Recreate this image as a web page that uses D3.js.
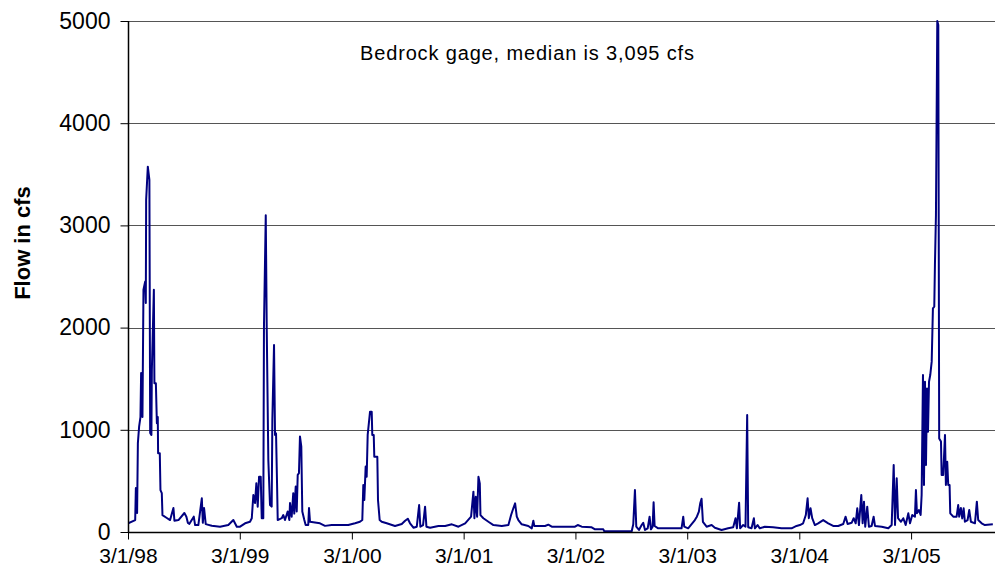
<!DOCTYPE html>
<html>
<head>
<meta charset="utf-8">
<script src="https://cdn.jsdelivr.net/npm/d3@7"></script>
<style>
  body { margin: 0; background: #fff; }
  svg { display: block; font-family: Arial, "Liberation Sans", sans-serif; }
  .grid line { stroke: #555; stroke-width: 1; }
  .axis path, .axis line { stroke: #000; }
  .axis text { fill: #000; }
</style>
</head>
<body>
<div id="chart"></div>
<script>
// daily flow at the Bedrock gage as [decimal year, cfs]
var flow1998 = [
  [1998.163, 85], [1998.226, 117], [1998.232, 430], [1998.243, 186], [1998.250, 870],
  [1998.261, 1030], [1998.273, 1125], [1998.279, 1555], [1998.291, 1125], [1998.300, 2370],
  [1998.315, 2450], [1998.321, 2240], [1998.324, 3250], [1998.339, 3575], [1998.353, 3445],
  [1998.360, 970], [1998.371, 950], [1998.375, 1585], [1998.393, 2370], [1998.398, 1455],
  [1998.411, 1455], [1998.420, 1065], [1998.428, 1125], [1998.431, 770], [1998.446, 770],
  [1998.452, 410], [1998.464, 380], [1998.470, 165], [1998.509, 137], [1998.538, 117],
  [1998.568, 235], [1998.577, 110], [1998.613, 117], [1998.666, 186], [1998.684, 150],
  [1998.697, 90], [1998.711, 80], [1998.750, 150], [1998.762, 68], [1998.791, 68],
  [1998.822, 330], [1998.831, 90], [1998.842, 235], [1998.857, 77], [1998.911, 62],
  [1998.985, 52], [1999.059, 68], [1999.104, 117], [1999.135, 52]
]

var flow1999 = [
  [1999.164, 52], [1999.209, 85], [1999.253, 100], [1999.269, 135], [1999.283, 362],
  [1999.298, 283], [1999.310, 478], [1999.322, 248], [1999.334, 540], [1999.349, 540],
  [1999.358, 135], [1999.372, 135], [1999.378, 2010], [1999.394, 3100], [1999.403, 1975],
  [1999.417, 705], [1999.432, 264], [1999.447, 248], [1999.453, 1095], [1999.468, 1830],
  [1999.477, 950], [1999.486, 965], [1999.495, 478], [1999.501, 117], [1999.537, 135],
  [1999.551, 166], [1999.566, 117], [1999.590, 200], [1999.605, 117], [1999.611, 283],
  [1999.626, 150], [1999.640, 380], [1999.649, 180], [1999.662, 445], [1999.671, 200],
  [1999.680, 560], [1999.691, 575], [1999.700, 935], [1999.712, 835], [1999.721, 200],
  [1999.739, 117], [1999.751, 68], [1999.774, 68], [1999.781, 235], [1999.790, 100],
  [1999.879, 85], [1999.924, 60], [1999.984, 68], [2000.132, 68]
]

var flow2000 = [
  [2000.192, 85], [2000.236, 100], [2000.257, 117], [2000.266, 460], [2000.275, 313],
  [2000.287, 640], [2000.296, 540], [2000.305, 950], [2000.326, 1177], [2000.341, 1177],
  [2000.346, 950], [2000.359, 950], [2000.364, 737], [2000.391, 737], [2000.397, 313],
  [2000.412, 117], [2000.430, 100], [2000.475, 85], [2000.549, 59], [2000.609, 78],
  [2000.639, 110], [2000.663, 130], [2000.683, 85], [2000.713, 42], [2000.743, 52],
  [2000.764, 264], [2000.775, 52], [2000.799, 68], [2000.817, 248], [2000.829, 52],
  [2000.862, 42], [2000.936, 59], [2000.996, 59], [2001.056, 75], [2001.115, 52]
]

var flow2001 = [
  [2001.175, 85], [2001.228, 150], [2001.249, 395], [2001.258, 135], [2001.270, 345],
  [2001.282, 150], [2001.294, 540], [2001.306, 476], [2001.312, 165], [2001.338, 135],
  [2001.383, 100], [2001.428, 68], [2001.503, 59], [2001.562, 68], [2001.586, 166],
  [2001.606, 232], [2001.622, 280], [2001.637, 150], [2001.651, 117], [2001.681, 75],
  [2001.740, 59], [2001.771, 36], [2001.785, 110], [2001.794, 59], [2001.890, 59],
  [2001.919, 72], [2001.950, 52]
]

var flow2002 = [
  [2002.158, 52], [2002.182, 68], [2002.218, 52], [2002.307, 46], [2002.337, 26],
  [2002.411, 26], [2002.420, 7], [2002.665, 7], [2002.679, 75], [2002.694, 411],
  [2002.706, 52], [2002.730, 20], [2002.754, 68], [2002.768, 90], [2002.784, 20],
  [2002.808, 36], [2002.825, 150], [2002.837, 26], [2002.852, 52], [2002.861, 290],
  [2002.870, 59], [2002.902, 36], [2003.111, 36], [2003.126, 150], [2003.135, 52]
]

var flow2003 = [
  [2003.170, 36], [2003.201, 78], [2003.230, 117], [2003.248, 150], [2003.266, 200],
  [2003.278, 280], [2003.290, 326], [2003.302, 100], [2003.335, 52], [2003.380, 68],
  [2003.409, 42], [2003.469, 20], [2003.528, 36], [2003.573, 46], [2003.594, 134],
  [2003.606, 36], [2003.626, 287], [2003.635, 36], [2003.662, 68], [2003.683, 52],
  [2003.698, 1145], [2003.707, 46], [2003.737, 36], [2003.758, 134], [2003.767, 36],
  [2003.791, 68], [2003.811, 36], [2003.856, 52], [2003.930, 46], [2004.005, 36],
  [2004.095, 36], [2004.139, 59]
]

var flow2004 = [
  [2004.169, 68], [2004.198, 85], [2004.222, 166], [2004.238, 330], [2004.249, 135],
  [2004.264, 232], [2004.279, 135], [2004.303, 68], [2004.332, 85], [2004.377, 117],
  [2004.422, 85], [2004.466, 59], [2004.511, 59], [2004.556, 78], [2004.577, 150],
  [2004.595, 78], [2004.631, 90], [2004.649, 135], [2004.667, 85], [2004.681, 232],
  [2004.696, 68], [2004.717, 362], [2004.729, 85], [2004.741, 297], [2004.752, 52],
  [2004.770, 248], [2004.785, 52], [2004.809, 59], [2004.827, 150], [2004.839, 59],
  [2004.899, 52], [2004.958, 36], [2004.988, 68], [2005.006, 655], [2005.018, 68],
  [2005.033, 525], [2005.045, 135], [2005.071, 100], [2005.092, 135], [2005.113, 68]
]

var flow2005 = [
  [2005.137, 183], [2005.152, 85], [2005.172, 166], [2005.196, 150], [2005.205, 411],
  [2005.214, 183], [2005.232, 215], [2005.247, 166], [2005.256, 362], [2005.268, 1536],
  [2005.277, 460], [2005.286, 1470], [2005.295, 655], [2005.304, 1405], [2005.313, 981],
  [2005.322, 1470], [2005.333, 1536], [2005.346, 1667], [2005.357, 2189], [2005.369, 2205],
  [2005.375, 2613], [2005.384, 3100], [2005.396, 5000], [2005.405, 4960], [2005.413, 916],
  [2005.429, 885], [2005.435, 558], [2005.449, 558], [2005.465, 950], [2005.473, 460],
  [2005.485, 688], [2005.494, 460], [2005.506, 460], [2005.512, 183], [2005.539, 150],
  [2005.569, 150], [2005.583, 264], [2005.592, 150], [2005.607, 235], [2005.619, 133],
  [2005.632, 232], [2005.643, 100], [2005.667, 117], [2005.682, 215], [2005.697, 100],
  [2005.733, 85], [2005.750, 297], [2005.762, 117], [2005.793, 85], [2005.822, 68],
  [2005.893, 75]
]

var xTickDates = ['1998-03-01', '1999-03-01', '2000-03-01', '2001-03-01',
  '2002-03-01', '2003-03-01', '2004-03-01', '2005-03-01']
var yTicks = [0, 1000, 2000, 3000, 4000, 5000]
var note = 'Bedrock gage, median is 3,095 cfs'

function toDate(yr){
  var y = Math.floor(yr)
  var start = Date.UTC(y, 0, 1), end = Date.UTC(y + 1, 0, 1)
  return new Date(start + (yr - y) * (end - start))
}

var data = [].concat(flow1998, flow1999, flow2000, flow2001, flow2002, flow2003, flow2004, flow2005)
  .map(function(d){ return {date: toDate(d[0]), flow: d[1]} })

var totalWidth = 995, totalHeight = 577
var margin = {left: 128, right: 0, top: 21, bottom: 45}
var width = totalWidth - margin.left - margin.right
var height = totalHeight - margin.top - margin.bottom

var svg = d3.select('#chart').append('svg')
  .attr('width', totalWidth).attr('height', totalHeight)

var g = svg.append('g').attr('transform', 'translate(' + margin.left + ',' + margin.top + ')')

var x = d3.scaleUtc()
  .domain([new Date(Date.UTC(1998, 2, 1)), new Date(Date.UTC(2005, 10, 30))])
  .range([0, width])
var y = d3.scaleLinear().domain([0, 5000]).range([height, 0])

g.append('g').attr('class', 'grid')
  .selectAll('line').data(yTicks.filter(function(d){ return d > 0 }))
  .enter().append('line')
  .attr('x1', 0).attr('x2', width)
  .attr('y1', function(d){ return Math.round(y(d)) + 0.5 })
  .attr('y2', function(d){ return Math.round(y(d)) + 0.5 })

g.append('defs').append('clipPath').attr('id', 'clip')
  .append('rect').attr('x', 0).attr('y', -2).attr('width', width).attr('height', height + 2)

var line = d3.line()
  .x(function(d){ return x(d.date) })
  .y(function(d){ return y(d.flow) })

g.append('path')
  .datum(data)
  .attr('clip-path', 'url(#clip)')
  .attr('d', line)
  .attr('fill', 'none')
  .attr('stroke', '#000080')
  .attr('stroke-width', 2)
  .attr('stroke-linejoin', 'round')

var yAxis = d3.axisLeft(y).tickValues(yTicks).tickSize(8).tickPadding(10).tickFormat(d3.format('d'))
g.append('g').attr('class', 'axis')
  .attr('transform', 'translate(0.5,0)')
  .call(yAxis)
  .call(function(s){ s.select('.domain').attr('d', 'M0,0V' + height) })
  .selectAll('text').style('font-size', '23px')

var xAxis = d3.axisBottom(x)
  .tickValues(xTickDates.map(function(s){ return new Date(s + 'T00:00:00Z') }))
  .tickSize(7).tickPadding(9)
  .tickFormat(d3.utcFormat('%-m/%-d/%y'))
g.append('g').attr('class', 'axis')
  .attr('transform', 'translate(0,' + (height + 0.5) + ')')
  .call(xAxis)
  .call(function(s){ s.select('.domain').attr('d', 'M0,0H' + width) })
  .selectAll('text').style('font-size', '21px')

g.selectAll('.axis .domain').attr('stroke-width', 1.5)

svg.append('text')
  .attr('transform', 'translate(30,' + 243 + ') rotate(-90)')
  .attr('text-anchor', 'middle')
  .style('font-size', '22px')
  .style('font-weight', 'bold')
  .text('Flow in cfs')

svg.append('text')
  .attr('x', 360).attr('y', 60)
  .style('font-size', '20px')
  .attr('textLength', 334)
  .text(note)
</script>
</body>
</html>
